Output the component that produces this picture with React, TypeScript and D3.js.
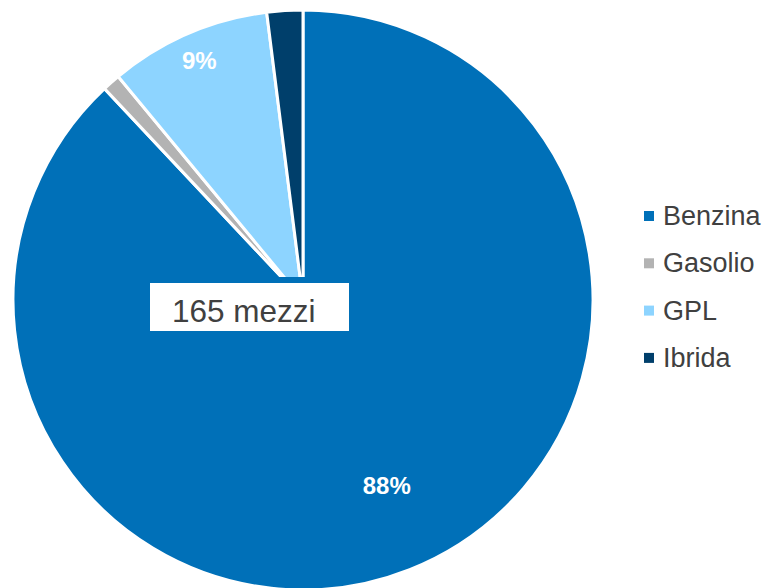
import React from "react";
import * as d3 from "d3";

const categories = ["Benzina", "Gasolio", "GPL", "Ibrida"];
const values = [88, 1, 9, 2];
const colors = ["#0070B8", "#B3B3B3", "#8DD4FF", "#003F6B"];
const sliceLabels = ["88%", "", "9%", ""];
const totalLabel = "165 mezzi";

const W = 765;
const H = 588;
const cx = 303;
const cy = 300;
const R = 290;
// label placement (radius fraction, nudge)
const labelRadius = [0.7, 0.8, 0.9, 0.8];
const labelNudge: [number, number][] = [[9, -3], [0, 0], [0, 0], [0, 0]];

export default function App() {
  const pie = d3.pie<number>().sort(null).value((d) => d)(values);
  const arc = d3.arc<d3.PieArcDatum<number>>().innerRadius(0).outerRadius(R);

  const legend = d3.scaleBand<string>().domain(categories).range([211, 211 + 47.3 * 4]);

  return (
    <svg
      width={W}
      height={H}
      style={{ position: "absolute", left: 0, top: 0, background: "#fff" }}
      fontFamily="'Liberation Sans', Arial, sans-serif"
    >
      <g transform={`translate(${cx},${cy})`}>
        {pie.map((p, i) => (
          <path key={i} d={arc(p) || ""} fill={colors[i]} stroke="#fff" strokeWidth={3} strokeLinejoin="miter" />
        ))}
        {pie.map((p, i) => {
          if (!sliceLabels[i]) return null;
          const r = R * labelRadius[i];
          const la = d3.arc<d3.PieArcDatum<number>>().innerRadius(r).outerRadius(r);
          const [x, y] = la.centroid(p);
          return (
            <text
              key={i}
              x={x + labelNudge[i][0]}
              y={y + labelNudge[i][1]}
              textAnchor="middle"
              dy="0.35em"
              fill="#fff"
              fontWeight="bold"
              fontSize={24}
            >
              {sliceLabels[i]}
            </text>
          );
        })}
      </g>
      <rect x={147} y={280} width={205} height={54} fill="#fff" stroke={colors[0]} strokeWidth={6} />
      <text x={172} y={322} fontSize={31.5} fill="#404040">
        {totalLabel}
      </text>
      {categories.map((c, i) => (
        <g key={c} transform={`translate(644,${legend(c)})`}>
          <rect width={10} height={10} fill={colors[i]} />
          <text x={19} y={14} fontSize={27} fill="#404040">
            {c}
          </text>
        </g>
      ))}
    </svg>
  );
}
